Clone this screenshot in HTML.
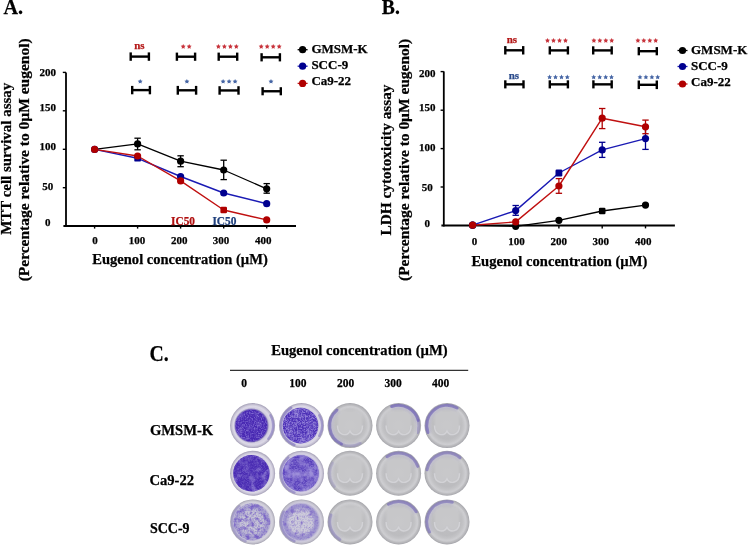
<!DOCTYPE html><html><head><meta charset="utf-8"><style>html,body{margin:0;padding:0;background:#fff;overflow:hidden;}svg{display:block;will-change:transform;}text{font-family:"Liberation Serif",serif;font-weight:bold;stroke-width:0.25px;}</style></head><body>
<svg width="748" height="545" viewBox="0 0 748 545">
<defs>
<filter id="spk" x="0" y="0" width="100%" height="100%">
  <feTurbulence type="fractalNoise" baseFrequency="0.55" numOctaves="2" seed="3" result="n"/>
  <feColorMatrix in="n" type="matrix" values="0 0 0 0 0.80  0 0 0 0 0.76  0 0 0 0 0.95  0 0 0 2.4 -1.25" result="m"/>
  <feComposite in="m" in2="SourceGraphic" operator="in"/>
</filter>
<radialGradient id="rim" cx="50%" cy="50%" r="50%">
  <stop offset="0" stop-color="#d4d2dc"/>
  <stop offset="0.78" stop-color="#cfcdd8"/>
  <stop offset="0.9" stop-color="#c2c0cc"/>
  <stop offset="1" stop-color="#9c9aa8"/>
</radialGradient>
<radialGradient id="empty" cx="50%" cy="50%" r="50%">
  <stop offset="0" stop-color="#d6d6da"/>
  <stop offset="0.7" stop-color="#cfcfd3"/>
  <stop offset="0.86" stop-color="#c4c4c9"/>
  <stop offset="0.95" stop-color="#b4b4ba"/>
  <stop offset="1" stop-color="#9e9ea6"/>
</radialGradient>
<radialGradient id="purp" cx="50%" cy="50%" r="50%">
  <stop offset="0" stop-color="#5a3cc4"/>
  <stop offset="0.85" stop-color="#5232bc"/>
  <stop offset="1" stop-color="#4a2cb0"/>
</radialGradient>
</defs>
<text x="3.4" y="13.7" font-size="21" fill="#000" stroke="#000" text-anchor="start" textLength="19.6" lengthAdjust="spacingAndGlyphs" >A.</text>
<text x="381.8" y="13.7" font-size="21" fill="#000" stroke="#000" text-anchor="start" textLength="18" lengthAdjust="spacingAndGlyphs" >B.</text>
<text x="149.4" y="361.2" font-size="22.2" fill="#000" stroke="#000" text-anchor="start" textLength="19.2" lengthAdjust="spacingAndGlyphs" >C.</text>
<line x1="66.0" y1="72.4" x2="66.0" y2="227" stroke="#000" stroke-width="1.8" stroke-linecap="butt"/>
<line x1="63.4" y1="226" x2="296" y2="226" stroke="#000" stroke-width="2.0" stroke-linecap="butt"/>
<line x1="62.8" y1="72.4" x2="66.0" y2="72.4" stroke="#000" stroke-width="1.4" stroke-linecap="butt"/>
<line x1="62.8" y1="110.8" x2="66.0" y2="110.8" stroke="#000" stroke-width="1.4" stroke-linecap="butt"/>
<line x1="62.8" y1="149.3" x2="66.0" y2="149.3" stroke="#000" stroke-width="1.4" stroke-linecap="butt"/>
<line x1="62.8" y1="187.7" x2="66.0" y2="187.7" stroke="#000" stroke-width="1.4" stroke-linecap="butt"/>
<line x1="94.6" y1="226" x2="94.6" y2="228.6" stroke="#000" stroke-width="1.4" stroke-linecap="butt"/>
<line x1="137.6" y1="226" x2="137.6" y2="228.6" stroke="#000" stroke-width="1.4" stroke-linecap="butt"/>
<line x1="180.6" y1="226" x2="180.6" y2="228.6" stroke="#000" stroke-width="1.4" stroke-linecap="butt"/>
<line x1="223.7" y1="226" x2="223.7" y2="228.6" stroke="#000" stroke-width="1.4" stroke-linecap="butt"/>
<line x1="266.7" y1="226" x2="266.7" y2="228.6" stroke="#000" stroke-width="1.4" stroke-linecap="butt"/>
<text x="47.7" y="76.4" font-size="11" fill="#000" stroke="#000" text-anchor="middle" >200</text>
<text x="47.7" y="110.8" font-size="11" fill="#000" stroke="#000" text-anchor="middle" >150</text>
<text x="47.7" y="149.6" font-size="11" fill="#000" stroke="#000" text-anchor="middle" >100</text>
<text x="47.7" y="190" font-size="11" fill="#000" stroke="#000" text-anchor="middle" >50</text>
<text x="47.7" y="226.4" font-size="11" fill="#000" stroke="#000" text-anchor="middle" >0</text>
<text x="95" y="244.2" font-size="11" fill="#000" stroke="#000" text-anchor="middle" >0</text>
<text x="137" y="244.2" font-size="11" fill="#000" stroke="#000" text-anchor="middle" >100</text>
<text x="179.2" y="244.2" font-size="11" fill="#000" stroke="#000" text-anchor="middle" >200</text>
<text x="221.1" y="244.2" font-size="11" fill="#000" stroke="#000" text-anchor="middle" >300</text>
<text x="263.2" y="244.2" font-size="11" fill="#000" stroke="#000" text-anchor="middle" >400</text>
<text x="92.3" y="264.2" font-size="14.5" fill="#000" stroke="#000" text-anchor="start" textLength="175.5" lengthAdjust="spacingAndGlyphs" >Eugenol concentration (µM)</text>
<g transform="translate(10.6,234.8) rotate(-90)">
<text x="0" y="0" font-size="14.5" fill="#000" stroke="#000" text-anchor="start" textLength="152" lengthAdjust="spacingAndGlyphs" >MTT cell survival assay</text>
</g>
<g transform="translate(28.8,281.3) rotate(-90)">
<text x="0" y="0" font-size="14.5" fill="#000" stroke="#000" text-anchor="start" textLength="242.9" lengthAdjust="spacingAndGlyphs" >(Percentage relative to 0µM eugenol)</text>
</g>
<line x1="137.6" y1="138.2" x2="137.6" y2="149.8" stroke="#000" stroke-width="1.3" stroke-linecap="butt"/>
<line x1="134.4" y1="138.2" x2="140.79999999999998" y2="138.2" stroke="#000" stroke-width="1.3" stroke-linecap="butt"/>
<line x1="134.4" y1="149.8" x2="140.79999999999998" y2="149.8" stroke="#000" stroke-width="1.3" stroke-linecap="butt"/>
<line x1="180.6" y1="155.8" x2="180.6" y2="166.7" stroke="#000" stroke-width="1.3" stroke-linecap="butt"/>
<line x1="177.4" y1="155.8" x2="183.79999999999998" y2="155.8" stroke="#000" stroke-width="1.3" stroke-linecap="butt"/>
<line x1="177.4" y1="166.7" x2="183.79999999999998" y2="166.7" stroke="#000" stroke-width="1.3" stroke-linecap="butt"/>
<line x1="223.7" y1="160.2" x2="223.7" y2="179.6" stroke="#000" stroke-width="1.3" stroke-linecap="butt"/>
<line x1="220.5" y1="160.2" x2="226.89999999999998" y2="160.2" stroke="#000" stroke-width="1.3" stroke-linecap="butt"/>
<line x1="220.5" y1="179.6" x2="226.89999999999998" y2="179.6" stroke="#000" stroke-width="1.3" stroke-linecap="butt"/>
<line x1="266.7" y1="183.6" x2="266.7" y2="193.2" stroke="#000" stroke-width="1.3" stroke-linecap="butt"/>
<line x1="263.5" y1="183.6" x2="269.9" y2="183.6" stroke="#000" stroke-width="1.3" stroke-linecap="butt"/>
<line x1="263.5" y1="193.2" x2="269.9" y2="193.2" stroke="#000" stroke-width="1.3" stroke-linecap="butt"/>
<polyline points="94.6,149.4 137.6,143.9 180.6,161.2 223.7,170.0 266.7,188.8" fill="none" stroke="#000" stroke-width="1.3" stroke-linejoin="round"/>
<polyline points="94.6,149.4 137.6,158.3 180.6,176.5 223.7,193.0 266.7,203.7" fill="none" stroke="#1a1ab4" stroke-width="1.4" stroke-linejoin="round"/>
<polyline points="94.6,149.4 137.6,156.0 180.6,180.9 223.7,210.0 266.7,219.9" fill="none" stroke="#c01010" stroke-width="1.4" stroke-linejoin="round"/>
<circle cx="137.6" cy="143.9" r="3.6" fill="#000"/>
<circle cx="180.6" cy="161.2" r="3.6" fill="#000"/>
<circle cx="223.7" cy="170.0" r="3.6" fill="#000"/>
<circle cx="266.7" cy="188.8" r="3.6" fill="#000"/>
<circle cx="94.6" cy="149.4" r="3.6" fill="#00008f"/>
<rect x="134.29999999999998" y="155.0" width="6.6" height="6.6" rx="1.2" fill="#00008f"/>
<circle cx="180.6" cy="176.5" r="3.6" fill="#00008f"/>
<circle cx="223.7" cy="193.0" r="3.6" fill="#00008f"/>
<circle cx="266.7" cy="203.7" r="3.6" fill="#00008f"/>
<circle cx="94.6" cy="149.4" r="3.6" fill="#b00000"/>
<circle cx="137.6" cy="156.0" r="3.6" fill="#b00000"/>
<circle cx="180.6" cy="180.9" r="3.6" fill="#b00000"/>
<rect x="220.39999999999998" y="206.7" width="6.6" height="6.6" rx="1.2" fill="#b00000"/>
<circle cx="266.7" cy="219.9" r="3.6" fill="#b00000"/>
<text x="171.1" y="224.6" font-size="12" fill="#b01010" stroke="#b01010" text-anchor="start" textLength="23.9" lengthAdjust="spacingAndGlyphs" >IC50</text>
<text x="212.4" y="224.6" font-size="12" fill="#1f3f7c" stroke="#1f3f7c" text-anchor="start" textLength="24" lengthAdjust="spacingAndGlyphs" >IC50</text>
<line x1="130.7" y1="52.4" x2="130.7" y2="60.8" stroke="#000" stroke-width="2.4" stroke-linecap="butt"/>
<line x1="148.9" y1="52.4" x2="148.9" y2="60.8" stroke="#000" stroke-width="2.4" stroke-linecap="butt"/>
<line x1="130.7" y1="56.599999999999994" x2="148.9" y2="56.599999999999994" stroke="#000" stroke-width="2.4" stroke-linecap="butt"/>
<line x1="176.9" y1="52.6" x2="176.9" y2="60.8" stroke="#000" stroke-width="2.4" stroke-linecap="butt"/>
<line x1="195.1" y1="52.6" x2="195.1" y2="60.8" stroke="#000" stroke-width="2.4" stroke-linecap="butt"/>
<line x1="176.9" y1="56.7" x2="195.1" y2="56.7" stroke="#000" stroke-width="2.4" stroke-linecap="butt"/>
<line x1="218.7" y1="52.6" x2="218.7" y2="60.8" stroke="#000" stroke-width="2.4" stroke-linecap="butt"/>
<line x1="237.2" y1="52.6" x2="237.2" y2="60.8" stroke="#000" stroke-width="2.4" stroke-linecap="butt"/>
<line x1="218.7" y1="56.7" x2="237.2" y2="56.7" stroke="#000" stroke-width="2.4" stroke-linecap="butt"/>
<line x1="261.6" y1="53.2" x2="261.6" y2="61.4" stroke="#000" stroke-width="2.4" stroke-linecap="butt"/>
<line x1="279.9" y1="53.2" x2="279.9" y2="61.4" stroke="#000" stroke-width="2.4" stroke-linecap="butt"/>
<line x1="261.6" y1="57.3" x2="279.9" y2="57.3" stroke="#000" stroke-width="2.4" stroke-linecap="butt"/>
<line x1="132.2" y1="85.9" x2="132.2" y2="94.3" stroke="#000" stroke-width="2.4" stroke-linecap="butt"/>
<line x1="149.9" y1="85.9" x2="149.9" y2="94.3" stroke="#000" stroke-width="2.4" stroke-linecap="butt"/>
<line x1="132.2" y1="90.1" x2="149.9" y2="90.1" stroke="#000" stroke-width="2.4" stroke-linecap="butt"/>
<line x1="177.8" y1="85.9" x2="177.8" y2="94.7" stroke="#000" stroke-width="2.4" stroke-linecap="butt"/>
<line x1="196.1" y1="85.9" x2="196.1" y2="94.7" stroke="#000" stroke-width="2.4" stroke-linecap="butt"/>
<line x1="177.8" y1="90.30000000000001" x2="196.1" y2="90.30000000000001" stroke="#000" stroke-width="2.4" stroke-linecap="butt"/>
<line x1="219.6" y1="86.2" x2="219.6" y2="94.7" stroke="#000" stroke-width="2.4" stroke-linecap="butt"/>
<line x1="238.5" y1="86.2" x2="238.5" y2="94.7" stroke="#000" stroke-width="2.4" stroke-linecap="butt"/>
<line x1="219.6" y1="90.45" x2="238.5" y2="90.45" stroke="#000" stroke-width="2.4" stroke-linecap="butt"/>
<line x1="262.6" y1="87.2" x2="262.6" y2="95.3" stroke="#000" stroke-width="2.4" stroke-linecap="butt"/>
<line x1="280.8" y1="87.2" x2="280.8" y2="95.3" stroke="#000" stroke-width="2.4" stroke-linecap="butt"/>
<line x1="262.6" y1="91.25" x2="280.8" y2="91.25" stroke="#000" stroke-width="2.4" stroke-linecap="butt"/>
<text x="139.4" y="49.1" font-size="11" fill="#b41818" stroke="#b41818" text-anchor="middle" >ns</text>
<polygon points="183.20,44.00 183.96,45.55 185.67,45.80 184.44,47.00 184.73,48.70 183.20,47.90 181.67,48.70 181.96,47.00 180.73,45.80 182.44,45.55" fill="#c8343c"/>
<polygon points="189.20,44.00 189.96,45.55 191.67,45.80 190.44,47.00 190.73,48.70 189.20,47.90 187.67,48.70 187.96,47.00 186.73,45.80 188.44,45.55" fill="#c8343c"/>
<polygon points="218.40,44.00 219.16,45.55 220.87,45.80 219.64,47.00 219.93,48.70 218.40,47.90 216.87,48.70 217.16,47.00 215.93,45.80 217.64,45.55" fill="#c8343c"/>
<polygon points="224.40,44.00 225.16,45.55 226.87,45.80 225.64,47.00 225.93,48.70 224.40,47.90 222.87,48.70 223.16,47.00 221.93,45.80 223.64,45.55" fill="#c8343c"/>
<polygon points="230.40,44.00 231.16,45.55 232.87,45.80 231.64,47.00 231.93,48.70 230.40,47.90 228.87,48.70 229.16,47.00 227.93,45.80 229.64,45.55" fill="#c8343c"/>
<polygon points="236.30,44.00 237.06,45.55 238.77,45.80 237.54,47.00 237.83,48.70 236.30,47.90 234.77,48.70 235.06,47.00 233.83,45.80 235.54,45.55" fill="#c8343c"/>
<polygon points="261.20,44.00 261.96,45.55 263.67,45.80 262.44,47.00 262.73,48.70 261.20,47.90 259.67,48.70 259.96,47.00 258.73,45.80 260.44,45.55" fill="#c8343c"/>
<polygon points="267.20,44.00 267.96,45.55 269.67,45.80 268.44,47.00 268.73,48.70 267.20,47.90 265.67,48.70 265.96,47.00 264.73,45.80 266.44,45.55" fill="#c8343c"/>
<polygon points="273.20,44.00 273.96,45.55 275.67,45.80 274.44,47.00 274.73,48.70 273.20,47.90 271.67,48.70 271.96,47.00 270.73,45.80 272.44,45.55" fill="#c8343c"/>
<polygon points="279.20,44.00 279.96,45.55 281.67,45.80 280.44,47.00 280.73,48.70 279.20,47.90 277.67,48.70 277.96,47.00 276.73,45.80 278.44,45.55" fill="#c8343c"/>
<polygon points="140.20,78.90 140.96,80.45 142.67,80.70 141.44,81.90 141.73,83.60 140.20,82.80 138.67,83.60 138.96,81.90 137.73,80.70 139.44,80.45" fill="#4464a4"/>
<polygon points="186.90,78.90 187.66,80.45 189.37,80.70 188.14,81.90 188.43,83.60 186.90,82.80 185.37,83.60 185.66,81.90 184.43,80.70 186.14,80.45" fill="#4464a4"/>
<polygon points="223.10,78.90 223.86,80.45 225.57,80.70 224.34,81.90 224.63,83.60 223.10,82.80 221.57,83.60 221.86,81.90 220.63,80.70 222.34,80.45" fill="#4464a4"/>
<polygon points="229.10,78.90 229.86,80.45 231.57,80.70 230.34,81.90 230.63,83.60 229.10,82.80 227.57,83.60 227.86,81.90 226.63,80.70 228.34,80.45" fill="#4464a4"/>
<polygon points="235.10,78.90 235.86,80.45 237.57,80.70 236.34,81.90 236.63,83.60 235.10,82.80 233.57,83.60 233.86,81.90 232.63,80.70 234.34,80.45" fill="#4464a4"/>
<polygon points="271.00,78.90 271.76,80.45 273.47,80.70 272.24,81.90 272.53,83.60 271.00,82.80 269.47,83.60 269.76,81.90 268.53,80.70 270.24,80.45" fill="#4464a4"/>
<line x1="297.6" y1="49.7" x2="307.6" y2="49.7" stroke="#000" stroke-width="1.3" stroke-linecap="butt"/>
<circle cx="302.6" cy="49.7" r="3.6" fill="#000"/>
<text x="311.4" y="53" font-size="13" fill="#000" stroke="#000" text-anchor="start" >GMSM-K</text>
<line x1="297.6" y1="66.2" x2="307.6" y2="66.2" stroke="#1a1ab4" stroke-width="1.3" stroke-linecap="butt"/>
<circle cx="302.6" cy="66.2" r="3.6" fill="#00008f"/>
<text x="311.4" y="69" font-size="13" fill="#000" stroke="#000" text-anchor="start" >SCC-9</text>
<line x1="297.6" y1="83.4" x2="307.6" y2="83.4" stroke="#c01010" stroke-width="1.3" stroke-linecap="butt"/>
<circle cx="302.6" cy="83.4" r="3.6" fill="#b00000"/>
<text x="311.4" y="85" font-size="13" fill="#000" stroke="#000" text-anchor="start" >Ca9-22</text>
<line x1="443.8" y1="71.4" x2="443.8" y2="226.5" stroke="#000" stroke-width="1.8" stroke-linecap="butt"/>
<line x1="441.4" y1="225.5" x2="674.9" y2="225.5" stroke="#000" stroke-width="2.0" stroke-linecap="butt"/>
<line x1="440.6" y1="71.6" x2="443.8" y2="71.6" stroke="#000" stroke-width="1.4" stroke-linecap="butt"/>
<line x1="440.6" y1="110.2" x2="443.8" y2="110.2" stroke="#000" stroke-width="1.4" stroke-linecap="butt"/>
<line x1="440.6" y1="148.6" x2="443.8" y2="148.6" stroke="#000" stroke-width="1.4" stroke-linecap="butt"/>
<line x1="440.6" y1="187.0" x2="443.8" y2="187.0" stroke="#000" stroke-width="1.4" stroke-linecap="butt"/>
<line x1="472.6" y1="225.5" x2="472.6" y2="228.4" stroke="#000" stroke-width="1.4" stroke-linecap="butt"/>
<line x1="515.7" y1="225.5" x2="515.7" y2="228.4" stroke="#000" stroke-width="1.4" stroke-linecap="butt"/>
<line x1="558.9" y1="225.5" x2="558.9" y2="228.4" stroke="#000" stroke-width="1.4" stroke-linecap="butt"/>
<line x1="602.2" y1="225.5" x2="602.2" y2="228.4" stroke="#000" stroke-width="1.4" stroke-linecap="butt"/>
<line x1="645.5" y1="225.5" x2="645.5" y2="228.4" stroke="#000" stroke-width="1.4" stroke-linecap="butt"/>
<text x="427.3" y="77.4" font-size="11" fill="#000" stroke="#000" text-anchor="middle" >200</text>
<text x="427.3" y="111.3" font-size="11" fill="#000" stroke="#000" text-anchor="middle" >150</text>
<text x="427.3" y="150.8" font-size="11" fill="#000" stroke="#000" text-anchor="middle" >100</text>
<text x="427.3" y="190.5" font-size="11" fill="#000" stroke="#000" text-anchor="middle" >50</text>
<text x="427.3" y="227.2" font-size="11" fill="#000" stroke="#000" text-anchor="middle" >0</text>
<text x="474.6" y="244.6" font-size="11" fill="#000" stroke="#000" text-anchor="middle" >0</text>
<text x="516.6" y="244.6" font-size="11" fill="#000" stroke="#000" text-anchor="middle" >100</text>
<text x="558.7" y="244.6" font-size="11" fill="#000" stroke="#000" text-anchor="middle" >200</text>
<text x="600.8" y="244.6" font-size="11" fill="#000" stroke="#000" text-anchor="middle" >300</text>
<text x="643.2" y="244.6" font-size="11" fill="#000" stroke="#000" text-anchor="middle" >400</text>
<text x="471.4" y="265.5" font-size="14.5" fill="#000" stroke="#000" text-anchor="start" textLength="176" lengthAdjust="spacingAndGlyphs" >Eugenol concentration (µM)</text>
<g transform="translate(390.6,235.4) rotate(-90)">
<text x="0" y="0" font-size="14.5" fill="#000" stroke="#000" text-anchor="start" textLength="150.9" lengthAdjust="spacingAndGlyphs" >LDH cytotoxicity assay</text>
</g>
<g transform="translate(409.2,281.0) rotate(-90)">
<text x="0" y="0" font-size="14.5" fill="#000" stroke="#000" text-anchor="start" textLength="242.1" lengthAdjust="spacingAndGlyphs" >(Percentage relative to 0µM eugenol)</text>
</g>
<line x1="515.7" y1="205.5" x2="515.7" y2="215.3" stroke="#00008f" stroke-width="1.3" stroke-linecap="butt"/>
<line x1="512.5" y1="205.5" x2="518.9000000000001" y2="205.5" stroke="#00008f" stroke-width="1.3" stroke-linecap="butt"/>
<line x1="512.5" y1="215.3" x2="518.9000000000001" y2="215.3" stroke="#00008f" stroke-width="1.3" stroke-linecap="butt"/>
<line x1="602.2" y1="142.3" x2="602.2" y2="157.4" stroke="#00008f" stroke-width="1.3" stroke-linecap="butt"/>
<line x1="599.0" y1="142.3" x2="605.4000000000001" y2="142.3" stroke="#00008f" stroke-width="1.3" stroke-linecap="butt"/>
<line x1="599.0" y1="157.4" x2="605.4000000000001" y2="157.4" stroke="#00008f" stroke-width="1.3" stroke-linecap="butt"/>
<line x1="645.5" y1="127.8" x2="645.5" y2="149.4" stroke="#00008f" stroke-width="1.3" stroke-linecap="butt"/>
<line x1="642.3" y1="127.8" x2="648.7" y2="127.8" stroke="#00008f" stroke-width="1.3" stroke-linecap="butt"/>
<line x1="642.3" y1="149.4" x2="648.7" y2="149.4" stroke="#00008f" stroke-width="1.3" stroke-linecap="butt"/>
<line x1="558.9" y1="178.6" x2="558.9" y2="193.3" stroke="#b00000" stroke-width="1.3" stroke-linecap="butt"/>
<line x1="555.6999999999999" y1="178.6" x2="562.1" y2="178.6" stroke="#b00000" stroke-width="1.3" stroke-linecap="butt"/>
<line x1="555.6999999999999" y1="193.3" x2="562.1" y2="193.3" stroke="#b00000" stroke-width="1.3" stroke-linecap="butt"/>
<line x1="602.2" y1="108.5" x2="602.2" y2="128.6" stroke="#b00000" stroke-width="1.3" stroke-linecap="butt"/>
<line x1="599.0" y1="108.5" x2="605.4000000000001" y2="108.5" stroke="#b00000" stroke-width="1.3" stroke-linecap="butt"/>
<line x1="599.0" y1="128.6" x2="605.4000000000001" y2="128.6" stroke="#b00000" stroke-width="1.3" stroke-linecap="butt"/>
<line x1="645.5" y1="120.1" x2="645.5" y2="133.7" stroke="#b00000" stroke-width="1.3" stroke-linecap="butt"/>
<line x1="642.3" y1="120.1" x2="648.7" y2="120.1" stroke="#b00000" stroke-width="1.3" stroke-linecap="butt"/>
<line x1="642.3" y1="133.7" x2="648.7" y2="133.7" stroke="#b00000" stroke-width="1.3" stroke-linecap="butt"/>
<polyline points="472.6,225.2 515.7,226.3 558.9,220.3 602.2,211.0 645.5,205.1" fill="none" stroke="#000" stroke-width="1.3" stroke-linejoin="round"/>
<polyline points="472.6,225.2 515.7,210.6 558.9,173.0 602.2,149.9 645.5,138.6" fill="none" stroke="#1a1ab4" stroke-width="1.4" stroke-linejoin="round"/>
<polyline points="472.6,225.2 515.7,221.9 558.9,186.0 602.2,118.2 645.5,126.8" fill="none" stroke="#c01010" stroke-width="1.4" stroke-linejoin="round"/>
<circle cx="472.6" cy="225.2" r="3.6" fill="#000"/>
<circle cx="515.7" cy="226.3" r="3.6" fill="#000"/>
<circle cx="558.9" cy="220.3" r="3.6" fill="#000"/>
<rect x="598.9000000000001" y="207.7" width="6.6" height="6.6" rx="1.2" fill="#000"/>
<circle cx="645.5" cy="205.1" r="3.6" fill="#000"/>
<circle cx="472.6" cy="225.2" r="3.6" fill="#00008f"/>
<circle cx="515.7" cy="210.6" r="3.6" fill="#00008f"/>
<rect x="555.5" y="169.6" width="6.8" height="6.8" rx="1.2" fill="#00008f"/>
<circle cx="602.2" cy="149.9" r="3.6" fill="#00008f"/>
<circle cx="645.5" cy="138.6" r="3.6" fill="#00008f"/>
<circle cx="472.6" cy="225.2" r="3.6" fill="#b00000"/>
<circle cx="515.7" cy="221.9" r="3.6" fill="#b00000"/>
<circle cx="558.9" cy="186.0" r="3.6" fill="#b00000"/>
<circle cx="602.2" cy="118.2" r="3.6" fill="#b00000"/>
<circle cx="645.5" cy="126.8" r="3.6" fill="#b00000"/>
<line x1="505.3" y1="46.1" x2="505.3" y2="54.5" stroke="#000" stroke-width="2.4" stroke-linecap="butt"/>
<line x1="523.2" y1="46.1" x2="523.2" y2="54.5" stroke="#000" stroke-width="2.4" stroke-linecap="butt"/>
<line x1="505.3" y1="50.3" x2="523.2" y2="50.3" stroke="#000" stroke-width="2.4" stroke-linecap="butt"/>
<line x1="549.8" y1="46.3" x2="549.8" y2="54.5" stroke="#000" stroke-width="2.4" stroke-linecap="butt"/>
<line x1="567.9" y1="46.3" x2="567.9" y2="54.5" stroke="#000" stroke-width="2.4" stroke-linecap="butt"/>
<line x1="549.8" y1="50.4" x2="567.9" y2="50.4" stroke="#000" stroke-width="2.4" stroke-linecap="butt"/>
<line x1="593.2" y1="46.3" x2="593.2" y2="54.5" stroke="#000" stroke-width="2.4" stroke-linecap="butt"/>
<line x1="611.7" y1="46.3" x2="611.7" y2="54.5" stroke="#000" stroke-width="2.4" stroke-linecap="butt"/>
<line x1="593.2" y1="50.4" x2="611.7" y2="50.4" stroke="#000" stroke-width="2.4" stroke-linecap="butt"/>
<line x1="638.8" y1="47.1" x2="638.8" y2="55.3" stroke="#000" stroke-width="2.4" stroke-linecap="butt"/>
<line x1="656.8" y1="47.1" x2="656.8" y2="55.3" stroke="#000" stroke-width="2.4" stroke-linecap="butt"/>
<line x1="638.8" y1="51.2" x2="656.8" y2="51.2" stroke="#000" stroke-width="2.4" stroke-linecap="butt"/>
<line x1="505.3" y1="80.3" x2="505.3" y2="88.4" stroke="#000" stroke-width="2.4" stroke-linecap="butt"/>
<line x1="523.5" y1="80.3" x2="523.5" y2="88.4" stroke="#000" stroke-width="2.4" stroke-linecap="butt"/>
<line x1="505.3" y1="84.35" x2="523.5" y2="84.35" stroke="#000" stroke-width="2.4" stroke-linecap="butt"/>
<line x1="549.8" y1="80.3" x2="549.8" y2="88.4" stroke="#000" stroke-width="2.4" stroke-linecap="butt"/>
<line x1="567.9" y1="80.3" x2="567.9" y2="88.4" stroke="#000" stroke-width="2.4" stroke-linecap="butt"/>
<line x1="549.8" y1="84.35" x2="567.9" y2="84.35" stroke="#000" stroke-width="2.4" stroke-linecap="butt"/>
<line x1="593.4" y1="80.3" x2="593.4" y2="88.4" stroke="#000" stroke-width="2.4" stroke-linecap="butt"/>
<line x1="611.7" y1="80.3" x2="611.7" y2="88.4" stroke="#000" stroke-width="2.4" stroke-linecap="butt"/>
<line x1="593.4" y1="84.35" x2="611.7" y2="84.35" stroke="#000" stroke-width="2.4" stroke-linecap="butt"/>
<line x1="638.8" y1="80.5" x2="638.8" y2="89.1" stroke="#000" stroke-width="2.4" stroke-linecap="butt"/>
<line x1="656.8" y1="80.5" x2="656.8" y2="89.1" stroke="#000" stroke-width="2.4" stroke-linecap="butt"/>
<line x1="638.8" y1="84.8" x2="656.8" y2="84.8" stroke="#000" stroke-width="2.4" stroke-linecap="butt"/>
<text x="511.9" y="42.6" font-size="11" fill="#b41818" stroke="#b41818" text-anchor="middle" >ns</text>
<text x="513.9" y="78.7" font-size="11" fill="#2c4c8c" stroke="#2c4c8c" text-anchor="middle" >ns</text>
<polygon points="547.50,38.00 548.26,39.55 549.97,39.80 548.74,41.00 549.03,42.70 547.50,41.90 545.97,42.70 546.26,41.00 545.03,39.80 546.74,39.55" fill="#c8343c"/>
<polygon points="553.50,38.00 554.26,39.55 555.97,39.80 554.74,41.00 555.03,42.70 553.50,41.90 551.97,42.70 552.26,41.00 551.03,39.80 552.74,39.55" fill="#c8343c"/>
<polygon points="559.50,38.00 560.26,39.55 561.97,39.80 560.74,41.00 561.03,42.70 559.50,41.90 557.97,42.70 558.26,41.00 557.03,39.80 558.74,39.55" fill="#c8343c"/>
<polygon points="565.50,38.00 566.26,39.55 567.97,39.80 566.74,41.00 567.03,42.70 565.50,41.90 563.97,42.70 564.26,41.00 563.03,39.80 564.74,39.55" fill="#c8343c"/>
<polygon points="593.90,38.00 594.66,39.55 596.37,39.80 595.14,41.00 595.43,42.70 593.90,41.90 592.37,42.70 592.66,41.00 591.43,39.80 593.14,39.55" fill="#c8343c"/>
<polygon points="599.80,38.00 600.56,39.55 602.27,39.80 601.04,41.00 601.33,42.70 599.80,41.90 598.27,42.70 598.56,41.00 597.33,39.80 599.04,39.55" fill="#c8343c"/>
<polygon points="605.80,38.00 606.56,39.55 608.27,39.80 607.04,41.00 607.33,42.70 605.80,41.90 604.27,42.70 604.56,41.00 603.33,39.80 605.04,39.55" fill="#c8343c"/>
<polygon points="611.70,38.00 612.46,39.55 614.17,39.80 612.94,41.00 613.23,42.70 611.70,41.90 610.17,42.70 610.46,41.00 609.23,39.80 610.94,39.55" fill="#c8343c"/>
<polygon points="637.90,38.00 638.66,39.55 640.37,39.80 639.14,41.00 639.43,42.70 637.90,41.90 636.37,42.70 636.66,41.00 635.43,39.80 637.14,39.55" fill="#c8343c"/>
<polygon points="643.80,38.00 644.56,39.55 646.27,39.80 645.04,41.00 645.33,42.70 643.80,41.90 642.27,42.70 642.56,41.00 641.33,39.80 643.04,39.55" fill="#c8343c"/>
<polygon points="649.80,38.00 650.56,39.55 652.27,39.80 651.04,41.00 651.33,42.70 649.80,41.90 648.27,42.70 648.56,41.00 647.33,39.80 649.04,39.55" fill="#c8343c"/>
<polygon points="655.70,38.00 656.46,39.55 658.17,39.80 656.94,41.00 657.23,42.70 655.70,41.90 654.17,42.70 654.46,41.00 653.23,39.80 654.94,39.55" fill="#c8343c"/>
<polygon points="549.60,74.60 550.36,76.15 552.07,76.40 550.84,77.60 551.13,79.30 549.60,78.50 548.07,79.30 548.36,77.60 547.13,76.40 548.84,76.15" fill="#4464a4"/>
<polygon points="555.50,74.60 556.26,76.15 557.97,76.40 556.74,77.60 557.03,79.30 555.50,78.50 553.97,79.30 554.26,77.60 553.03,76.40 554.74,76.15" fill="#4464a4"/>
<polygon points="561.50,74.60 562.26,76.15 563.97,76.40 562.74,77.60 563.03,79.30 561.50,78.50 559.97,79.30 560.26,77.60 559.03,76.40 560.74,76.15" fill="#4464a4"/>
<polygon points="567.30,74.60 568.06,76.15 569.77,76.40 568.54,77.60 568.83,79.30 567.30,78.50 565.77,79.30 566.06,77.60 564.83,76.40 566.54,76.15" fill="#4464a4"/>
<polygon points="593.70,74.60 594.46,76.15 596.17,76.40 594.94,77.60 595.23,79.30 593.70,78.50 592.17,79.30 592.46,77.60 591.23,76.40 592.94,76.15" fill="#4464a4"/>
<polygon points="599.70,74.60 600.46,76.15 602.17,76.40 600.94,77.60 601.23,79.30 599.70,78.50 598.17,79.30 598.46,77.60 597.23,76.40 598.94,76.15" fill="#4464a4"/>
<polygon points="605.70,74.60 606.46,76.15 608.17,76.40 606.94,77.60 607.23,79.30 605.70,78.50 604.17,79.30 604.46,77.60 603.23,76.40 604.94,76.15" fill="#4464a4"/>
<polygon points="611.50,74.60 612.26,76.15 613.97,76.40 612.74,77.60 613.03,79.30 611.50,78.50 609.97,79.30 610.26,77.60 609.03,76.40 610.74,76.15" fill="#4464a4"/>
<polygon points="640.00,74.60 640.76,76.15 642.47,76.40 641.24,77.60 641.53,79.30 640.00,78.50 638.47,79.30 638.76,77.60 637.53,76.40 639.24,76.15" fill="#4464a4"/>
<polygon points="645.90,74.60 646.66,76.15 648.37,76.40 647.14,77.60 647.43,79.30 645.90,78.50 644.37,79.30 644.66,77.60 643.43,76.40 645.14,76.15" fill="#4464a4"/>
<polygon points="651.90,74.60 652.66,76.15 654.37,76.40 653.14,77.60 653.43,79.30 651.90,78.50 650.37,79.30 650.66,77.60 649.43,76.40 651.14,76.15" fill="#4464a4"/>
<polygon points="657.70,74.60 658.46,76.15 660.17,76.40 658.94,77.60 659.23,79.30 657.70,78.50 656.17,79.30 656.46,77.60 655.23,76.40 656.94,76.15" fill="#4464a4"/>
<line x1="677.5" y1="50.5" x2="687.5" y2="50.5" stroke="#000" stroke-width="1.3" stroke-linecap="butt"/>
<circle cx="682.5" cy="50.5" r="3.6" fill="#000"/>
<text x="691" y="54" font-size="13" fill="#000" stroke="#000" text-anchor="start" >GMSM-K</text>
<line x1="677.5" y1="66.5" x2="687.5" y2="66.5" stroke="#1a1ab4" stroke-width="1.3" stroke-linecap="butt"/>
<circle cx="682.5" cy="66.5" r="3.6" fill="#00008f"/>
<text x="691" y="70" font-size="13" fill="#000" stroke="#000" text-anchor="start" >SCC-9</text>
<line x1="677.5" y1="84.0" x2="687.5" y2="84.0" stroke="#c01010" stroke-width="1.3" stroke-linecap="butt"/>
<circle cx="682.5" cy="84.0" r="3.6" fill="#b00000"/>
<text x="691" y="86" font-size="13" fill="#000" stroke="#000" text-anchor="start" >Ca9-22</text>
<text x="271.2" y="355" font-size="14.5" fill="#000" stroke="#000" text-anchor="start" textLength="176.4" lengthAdjust="spacingAndGlyphs" >Eugenol concentration (µM)</text>
<line x1="230" y1="370.4" x2="468.2" y2="370.4" stroke="#333" stroke-width="1.1" stroke-linecap="butt"/>
<text x="244" y="387" font-size="11.5" fill="#000" stroke="#000" text-anchor="middle" >0</text>
<text x="297.8" y="387" font-size="11.5" fill="#000" stroke="#000" text-anchor="middle" >100</text>
<text x="345.5" y="387" font-size="11.5" fill="#000" stroke="#000" text-anchor="middle" >200</text>
<text x="393.1" y="387" font-size="11.5" fill="#000" stroke="#000" text-anchor="middle" >300</text>
<text x="440.5" y="387" font-size="11.5" fill="#000" stroke="#000" text-anchor="middle" >400</text>
<text x="149.9" y="435.3" font-size="14.5" fill="#000" stroke="#000" text-anchor="start" textLength="63.3" lengthAdjust="spacingAndGlyphs" >GMSM-K</text>
<text x="149.4" y="485" font-size="14.5" fill="#000" stroke="#000" text-anchor="start" textLength="44.7" lengthAdjust="spacingAndGlyphs" >Ca9-22</text>
<text x="150" y="532.8" font-size="14.5" fill="#000" stroke="#000" text-anchor="start" textLength="39.6" lengthAdjust="spacingAndGlyphs" >SCC-9</text>
<defs>
<radialGradient id="rimS" cx="50%" cy="50%" r="50%"><stop offset="0.70" stop-color="#bcb6d2"/><stop offset="0.76" stop-color="#d2cee0"/><stop offset="0.86" stop-color="#dcd9e6"/><stop offset="0.93" stop-color="#c6c2d4"/><stop offset="1" stop-color="#a29db4"/></radialGradient><radialGradient id="rimG" cx="50%" cy="50%" r="50%"><stop offset="0.70" stop-color="#bcbac8"/><stop offset="0.78" stop-color="#cfcdd8"/><stop offset="0.87" stop-color="#d6d4de"/><stop offset="0.94" stop-color="#c2c0cc"/><stop offset="1" stop-color="#a4a2b0"/></radialGradient><radialGradient id="emp" cx="50%" cy="50%" r="50%"><stop offset="0" stop-color="#c0c0c2"/><stop offset="0.6" stop-color="#bcbcbf"/><stop offset="0.72" stop-color="#c3c3c6"/><stop offset="0.81" stop-color="#cccccf"/><stop offset="0.89" stop-color="#c1c1c4"/><stop offset="0.955" stop-color="#b2b2b6"/><stop offset="1" stop-color="#a2a2a8"/></radialGradient>
<filter id="fl1" x="0" y="0" width="100%" height="100%" color-interpolation-filters="sRGB"><feTurbulence type="fractalNoise" baseFrequency="0.75" numOctaves="2" seed="3" result="n"/><feColorMatrix in="n" type="matrix" values="0 0 0 0 0.56  0 0 0 0 0.48  0 0 0 0 0.86  3.0 0 0 0 -1.3" result="m"/><feGaussianBlur in="m" stdDeviation="0.35" result="mb"/><feComposite in="mb" in2="SourceGraphic" operator="in"/></filter>
<filter id="fl2" x="0" y="0" width="100%" height="100%" color-interpolation-filters="sRGB"><feTurbulence type="fractalNoise" baseFrequency="0.75" numOctaves="2" seed="5" result="n"/><feColorMatrix in="n" type="matrix" values="0 0 0 0 0.62  0 0 0 0 0.55  0 0 0 0 0.88  3.0 0 0 0 -1.15" result="m"/><feGaussianBlur in="m" stdDeviation="0.35" result="mb"/><feComposite in="mb" in2="SourceGraphic" operator="in"/></filter>
<filter id="ml1" x="0" y="0" width="100%" height="100%" color-interpolation-filters="sRGB"><feTurbulence type="fractalNoise" baseFrequency="0.16" numOctaves="3" seed="7" result="n"/><feColorMatrix in="n" type="matrix" values="0 0 0 0 0.72  0 0 0 0 0.68  0 0 0 0 0.9  3.2 0 0 0 -1.45" result="m"/><feGaussianBlur in="m" stdDeviation="0.6" result="mb"/><feComposite in="mb" in2="SourceGraphic" operator="in"/></filter>
<filter id="ml2" x="0" y="0" width="100%" height="100%" color-interpolation-filters="sRGB"><feTurbulence type="fractalNoise" baseFrequency="0.14" numOctaves="3" seed="9" result="n"/><feColorMatrix in="n" type="matrix" values="0 0 0 0 0.7  0 0 0 0 0.66  0 0 0 0 0.88  2.6 0 0 0 -0.95" result="m"/><feGaussianBlur in="m" stdDeviation="0.6" result="mb"/><feComposite in="mb" in2="SourceGraphic" operator="in"/></filter>
<filter id="bp1" x="0" y="0" width="100%" height="100%" color-interpolation-filters="sRGB"><feTurbulence type="fractalNoise" baseFrequency="0.22" numOctaves="3" seed="11" result="n"/><feColorMatrix in="n" type="matrix" values="0 0 0 0 0.42  0 0 0 0 0.32  0 0 0 0 0.76  3.2 0 0 0 -1.45" result="m"/><feGaussianBlur in="m" stdDeviation="0.5" result="mb"/><feComposite in="mb" in2="SourceGraphic" operator="in"/></filter>
<filter id="bp2" x="0" y="0" width="100%" height="100%" color-interpolation-filters="sRGB"><feTurbulence type="fractalNoise" baseFrequency="0.22" numOctaves="3" seed="13" result="n"/><feColorMatrix in="n" type="matrix" values="0 0 0 0 0.42  0 0 0 0 0.32  0 0 0 0 0.76  3.2 0 0 0 -1.65" result="m"/><feGaussianBlur in="m" stdDeviation="0.5" result="mb"/><feComposite in="mb" in2="SourceGraphic" operator="in"/></filter>
<filter id="bf1" x="0" y="0" width="100%" height="100%" color-interpolation-filters="sRGB"><feTurbulence type="fractalNoise" baseFrequency="0.7" numOctaves="2" seed="15" result="n"/><feColorMatrix in="n" type="matrix" values="0 0 0 0 0.45  0 0 0 0 0.36  0 0 0 0 0.78  3.0 0 0 0 -1.3" result="m"/><feGaussianBlur in="m" stdDeviation="0.35" result="mb"/><feComposite in="mb" in2="SourceGraphic" operator="in"/></filter>
<filter id="soft" x="-20%" y="-20%" width="140%" height="140%"><feGaussianBlur stdDeviation="0.9"/></filter>
<filter id="soft05" x="-20%" y="-20%" width="140%" height="140%"><feGaussianBlur stdDeviation="0.45"/></filter>
<filter id="soft07" x="-20%" y="-20%" width="140%" height="140%"><feGaussianBlur stdDeviation="0.7"/></filter>
<filter id="soft2" x="-20%" y="-20%" width="140%" height="140%"><feGaussianBlur stdDeviation="1.6"/></filter>
</defs>
<circle cx="252.6" cy="425.6" r="22.5" fill="url(#rimS)"/>
<path d="M270.35,415.35 A20.5,20.5 0 0 1 268.30,438.78" fill="none" stroke="#6252b4" stroke-width="2.4" stroke-linecap="round" opacity="0.4" filter="url(#soft05)"/>
<circle cx="251.4" cy="425.6" r="16.2" fill="#4828b2"/>
<circle cx="251.4" cy="425.6" r="16.4" fill="none" stroke="#5a48a8" stroke-width="1.2" opacity="0.5" filter="url(#soft05)"/>
<circle cx="251.4" cy="425.6" r="16.2" fill="#fff" filter="url(#fl1)" opacity="0.7"/>
<circle cx="251.4" cy="425.6" r="16.2" fill="#fff" filter="url(#ml1)" opacity="0.25"/>
<circle cx="301.5" cy="425.6" r="22.5" fill="url(#rimS)"/>
<path d="M294.49,444.86 A20.5,20.5 0 0 1 291.25,407.85" fill="none" stroke="#6252b4" stroke-width="2.4" stroke-linecap="round" opacity="0.48" filter="url(#soft05)"/>
<path d="M319.25,415.35 A20.5,20.5 0 0 1 319.25,435.85" fill="none" stroke="#6252b4" stroke-width="2.4" stroke-linecap="round" opacity="0.4" filter="url(#soft05)"/>
<circle cx="300.5" cy="425.6" r="17.8" fill="#4c30b6"/>
<circle cx="300.5" cy="425.6" r="17.8" fill="#fff" filter="url(#fl2)" opacity="0.8"/>
<circle cx="300.5" cy="425.6" r="17.8" fill="#fff" filter="url(#ml1)" opacity="0.4"/>
<circle cx="350.0" cy="425.6" r="22.5" fill="url(#emp)"/>
<path d="M337.5,416.6 Q337.5,410.6 344.0,410.6 L356.0,410.6 Q362.5,410.6 362.5,416.6 L362.5,425.6 C362.5,436.1 353.0,436.6 350.0,431.1 C347.0,436.6 337.5,436.1 337.5,425.6 Z" fill="#cbcbcd" opacity="0.75" filter="url(#soft)"/>
<line x1="342.0" y1="412.6" x2="342.0" y2="429.6" stroke="#cdcdd1" stroke-width="1.6" opacity="0.45" filter="url(#soft)"/>
<line x1="347.0" y1="412.6" x2="347.0" y2="429.6" stroke="#cdcdd1" stroke-width="1.6" opacity="0.45" filter="url(#soft)"/>
<line x1="352.0" y1="412.6" x2="352.0" y2="429.6" stroke="#cdcdd1" stroke-width="1.6" opacity="0.45" filter="url(#soft)"/>
<line x1="357.0" y1="412.6" x2="357.0" y2="429.6" stroke="#cdcdd1" stroke-width="1.6" opacity="0.45" filter="url(#soft)"/>
<path d="M337.5,425.6 C337.5,436.1 347.0,436.6 350.0,431.1 C353.0,436.6 362.5,436.1 362.5,425.6" fill="none" stroke="#d6d6da" stroke-width="1.4" opacity="0.85" filter="url(#soft05)"/>
<circle cx="350.0" cy="425.6" r="19.1" fill="none" stroke="#d0d0d4" stroke-width="1.0" opacity="0.7"/>
<path d="M341.42,444.00 A20.3,20.3 0 0 1 336.95,410.05" fill="none" stroke="#6a5cb6" stroke-width="3.0" stroke-linecap="round" opacity="0.6400000000000001" filter="url(#soft07)"/>
<path d="M342.27,442.19 A18.3,18.3 0 0 1 338.24,411.58" fill="none" stroke="#8a80c4" stroke-width="2.5" stroke-linecap="round" opacity="0.24" filter="url(#soft)"/>
<path d="M360.15,443.18 A20.3,20.3 0 0 1 341.42,444.00" fill="none" stroke="#6a5cb6" stroke-width="3.0" stroke-linecap="round" opacity="0.27999999999999997" filter="url(#soft07)"/>
<path d="M359.15,441.45 A18.3,18.3 0 0 1 342.27,442.19" fill="none" stroke="#8a80c4" stroke-width="2.5" stroke-linecap="round" opacity="0.105" filter="url(#soft)"/>
<circle cx="398.6" cy="425.6" r="22.5" fill="url(#emp)"/>
<path d="M386.1,416.6 Q386.1,410.6 392.6,410.6 L404.6,410.6 Q411.1,410.6 411.1,416.6 L411.1,425.6 C411.1,436.1 401.6,436.6 398.6,431.1 C395.6,436.6 386.1,436.1 386.1,425.6 Z" fill="#cbcbcd" opacity="0.75" filter="url(#soft)"/>
<line x1="390.6" y1="412.6" x2="390.6" y2="429.6" stroke="#cdcdd1" stroke-width="1.6" opacity="0.45" filter="url(#soft)"/>
<line x1="395.6" y1="412.6" x2="395.6" y2="429.6" stroke="#cdcdd1" stroke-width="1.6" opacity="0.45" filter="url(#soft)"/>
<line x1="400.6" y1="412.6" x2="400.6" y2="429.6" stroke="#cdcdd1" stroke-width="1.6" opacity="0.45" filter="url(#soft)"/>
<line x1="405.6" y1="412.6" x2="405.6" y2="429.6" stroke="#cdcdd1" stroke-width="1.6" opacity="0.45" filter="url(#soft)"/>
<path d="M386.1,425.6 C386.1,436.1 395.6,436.6 398.6,431.1 C401.6,436.6 411.1,436.1 411.1,425.6" fill="none" stroke="#d6d6da" stroke-width="1.4" opacity="0.85" filter="url(#soft05)"/>
<circle cx="398.6" cy="425.6" r="19.1" fill="none" stroke="#d0d0d4" stroke-width="1.0" opacity="0.7"/>
<path d="M391.66,406.52 A20.3,20.3 0 0 1 418.21,420.35" fill="none" stroke="#6a5cb6" stroke-width="3.0" stroke-linecap="round" opacity="0.68" filter="url(#soft07)"/>
<path d="M392.34,408.40 A18.3,18.3 0 0 1 416.28,420.86" fill="none" stroke="#8a80c4" stroke-width="2.5" stroke-linecap="round" opacity="0.255" filter="url(#soft)"/>
<path d="M418.21,420.35 A20.3,20.3 0 0 1 417.68,432.54" fill="none" stroke="#6a5cb6" stroke-width="3.0" stroke-linecap="round" opacity="0.32000000000000006" filter="url(#soft07)"/>
<path d="M416.28,420.86 A18.3,18.3 0 0 1 415.80,431.86" fill="none" stroke="#8a80c4" stroke-width="2.5" stroke-linecap="round" opacity="0.12" filter="url(#soft)"/>
<circle cx="447.0" cy="425.6" r="22.5" fill="url(#emp)"/>
<path d="M434.5,416.6 Q434.5,410.6 441.0,410.6 L453.0,410.6 Q459.5,410.6 459.5,416.6 L459.5,425.6 C459.5,436.1 450.0,436.6 447.0,431.1 C444.0,436.6 434.5,436.1 434.5,425.6 Z" fill="#cbcbcd" opacity="0.75" filter="url(#soft)"/>
<line x1="439.0" y1="412.6" x2="439.0" y2="429.6" stroke="#cdcdd1" stroke-width="1.6" opacity="0.45" filter="url(#soft)"/>
<line x1="444.0" y1="412.6" x2="444.0" y2="429.6" stroke="#cdcdd1" stroke-width="1.6" opacity="0.45" filter="url(#soft)"/>
<line x1="449.0" y1="412.6" x2="449.0" y2="429.6" stroke="#cdcdd1" stroke-width="1.6" opacity="0.45" filter="url(#soft)"/>
<line x1="454.0" y1="412.6" x2="454.0" y2="429.6" stroke="#cdcdd1" stroke-width="1.6" opacity="0.45" filter="url(#soft)"/>
<path d="M434.5,425.6 C434.5,436.1 444.0,436.6 447.0,431.1 C450.0,436.6 459.5,436.1 459.5,425.6" fill="none" stroke="#d6d6da" stroke-width="1.4" opacity="0.85" filter="url(#soft05)"/>
<circle cx="447.0" cy="425.6" r="19.1" fill="none" stroke="#d0d0d4" stroke-width="1.0" opacity="0.7"/>
<path d="M427.92,432.54 A20.3,20.3 0 0 1 457.15,408.02" fill="none" stroke="#6a5cb6" stroke-width="3.0" stroke-linecap="round" opacity="0.6400000000000001" filter="url(#soft07)"/>
<path d="M429.80,431.86 A18.3,18.3 0 0 1 456.15,409.75" fill="none" stroke="#8a80c4" stroke-width="2.5" stroke-linecap="round" opacity="0.24" filter="url(#soft)"/>
<circle cx="252.6" cy="473.3" r="22.5" fill="url(#rimS)"/>
<circle cx="251.4" cy="473.3" r="18.2" fill="#4a2cb2"/>
<circle cx="251.4" cy="473.3" r="18.2" fill="#fff" filter="url(#fl1)" opacity="0.4"/>
<circle cx="251.4" cy="473.3" r="18.2" fill="#fff" filter="url(#ml1)" opacity="0.45"/>
<circle cx="301.5" cy="473.3" r="22.5" fill="url(#rimS)"/>
<path d="M294.49,492.56 A20.5,20.5 0 0 1 288.32,457.60" fill="none" stroke="#6252b4" stroke-width="2.4" stroke-linecap="round" opacity="0.4" filter="url(#soft05)"/>
<circle cx="300.7" cy="473.3" r="18.0" fill="#5c44bc"/>
<circle cx="300.7" cy="473.3" r="16" fill="none" stroke="#5038b8" stroke-width="3" opacity="0.6" filter="url(#soft2)"/>
<circle cx="300.7" cy="473.3" r="18.0" fill="#fff" filter="url(#ml2)" opacity="0.75"/>
<circle cx="300.7" cy="473.3" r="18.0" fill="#fff" filter="url(#fl2)" opacity="0.5"/>
<circle cx="350.0" cy="473.3" r="22.5" fill="url(#emp)"/>
<path d="M337.5,464.3 Q337.5,458.3 344.0,458.3 L356.0,458.3 Q362.5,458.3 362.5,464.3 L362.5,473.3 C362.5,483.8 353.0,484.3 350.0,478.8 C347.0,484.3 337.5,483.8 337.5,473.3 Z" fill="#cbcbcd" opacity="0.75" filter="url(#soft)"/>
<line x1="342.0" y1="460.3" x2="342.0" y2="477.3" stroke="#cdcdd1" stroke-width="1.6" opacity="0.45" filter="url(#soft)"/>
<line x1="347.0" y1="460.3" x2="347.0" y2="477.3" stroke="#cdcdd1" stroke-width="1.6" opacity="0.45" filter="url(#soft)"/>
<line x1="352.0" y1="460.3" x2="352.0" y2="477.3" stroke="#cdcdd1" stroke-width="1.6" opacity="0.45" filter="url(#soft)"/>
<line x1="357.0" y1="460.3" x2="357.0" y2="477.3" stroke="#cdcdd1" stroke-width="1.6" opacity="0.45" filter="url(#soft)"/>
<path d="M337.5,473.3 C337.5,483.8 347.0,484.3 350.0,478.8 C353.0,484.3 362.5,483.8 362.5,473.3" fill="none" stroke="#d6d6da" stroke-width="1.4" opacity="0.85" filter="url(#soft05)"/>
<circle cx="350.0" cy="473.3" r="19.1" fill="none" stroke="#d0d0d4" stroke-width="1.0" opacity="0.7"/>
<path d="M334.45,486.35 A20.3,20.3 0 0 1 332.42,463.15" fill="none" stroke="#6a5cb6" stroke-width="3.0" stroke-linecap="round" opacity="0.2" filter="url(#soft07)"/>
<path d="M335.98,485.06 A18.3,18.3 0 0 1 334.15,464.15" fill="none" stroke="#8a80c4" stroke-width="2.5" stroke-linecap="round" opacity="0.075" filter="url(#soft)"/>
<circle cx="398.6" cy="473.3" r="22.5" fill="url(#emp)"/>
<path d="M386.1,464.3 Q386.1,458.3 392.6,458.3 L404.6,458.3 Q411.1,458.3 411.1,464.3 L411.1,473.3 C411.1,483.8 401.6,484.3 398.6,478.8 C395.6,484.3 386.1,483.8 386.1,473.3 Z" fill="#cbcbcd" opacity="0.75" filter="url(#soft)"/>
<line x1="390.6" y1="460.3" x2="390.6" y2="477.3" stroke="#cdcdd1" stroke-width="1.6" opacity="0.45" filter="url(#soft)"/>
<line x1="395.6" y1="460.3" x2="395.6" y2="477.3" stroke="#cdcdd1" stroke-width="1.6" opacity="0.45" filter="url(#soft)"/>
<line x1="400.6" y1="460.3" x2="400.6" y2="477.3" stroke="#cdcdd1" stroke-width="1.6" opacity="0.45" filter="url(#soft)"/>
<line x1="405.6" y1="460.3" x2="405.6" y2="477.3" stroke="#cdcdd1" stroke-width="1.6" opacity="0.45" filter="url(#soft)"/>
<path d="M386.1,473.3 C386.1,483.8 395.6,484.3 398.6,478.8 C401.6,484.3 411.1,483.8 411.1,473.3" fill="none" stroke="#d6d6da" stroke-width="1.4" opacity="0.85" filter="url(#soft05)"/>
<circle cx="398.6" cy="473.3" r="19.1" fill="none" stroke="#d0d0d4" stroke-width="1.0" opacity="0.7"/>
<path d="M386.96,456.67 A20.3,20.3 0 0 1 417.68,466.36" fill="none" stroke="#6a5cb6" stroke-width="3.0" stroke-linecap="round" opacity="0.5599999999999999" filter="url(#soft07)"/>
<path d="M388.10,458.31 A18.3,18.3 0 0 1 415.80,467.04" fill="none" stroke="#8a80c4" stroke-width="2.5" stroke-linecap="round" opacity="0.21" filter="url(#soft)"/>
<circle cx="447.0" cy="473.3" r="22.5" fill="url(#emp)"/>
<path d="M434.5,464.3 Q434.5,458.3 441.0,458.3 L453.0,458.3 Q459.5,458.3 459.5,464.3 L459.5,473.3 C459.5,483.8 450.0,484.3 447.0,478.8 C444.0,484.3 434.5,483.8 434.5,473.3 Z" fill="#cbcbcd" opacity="0.75" filter="url(#soft)"/>
<line x1="439.0" y1="460.3" x2="439.0" y2="477.3" stroke="#cdcdd1" stroke-width="1.6" opacity="0.45" filter="url(#soft)"/>
<line x1="444.0" y1="460.3" x2="444.0" y2="477.3" stroke="#cdcdd1" stroke-width="1.6" opacity="0.45" filter="url(#soft)"/>
<line x1="449.0" y1="460.3" x2="449.0" y2="477.3" stroke="#cdcdd1" stroke-width="1.6" opacity="0.45" filter="url(#soft)"/>
<line x1="454.0" y1="460.3" x2="454.0" y2="477.3" stroke="#cdcdd1" stroke-width="1.6" opacity="0.45" filter="url(#soft)"/>
<path d="M434.5,473.3 C434.5,483.8 444.0,484.3 447.0,478.8 C450.0,484.3 459.5,483.8 459.5,473.3" fill="none" stroke="#d6d6da" stroke-width="1.4" opacity="0.85" filter="url(#soft05)"/>
<circle cx="447.0" cy="473.3" r="19.1" fill="none" stroke="#d0d0d4" stroke-width="1.0" opacity="0.7"/>
<path d="M427.01,469.77 A20.3,20.3 0 0 1 460.05,457.75" fill="none" stroke="#6a5cb6" stroke-width="3.0" stroke-linecap="round" opacity="0.52" filter="url(#soft07)"/>
<path d="M428.98,470.12 A18.3,18.3 0 0 1 458.76,459.28" fill="none" stroke="#8a80c4" stroke-width="2.5" stroke-linecap="round" opacity="0.195" filter="url(#soft)"/>
<circle cx="252.6" cy="521.9" r="22.5" fill="url(#rimG)"/>
<path d="M245.59,541.16 A20.5,20.5 0 0 1 239.42,506.20" fill="none" stroke="#6252b4" stroke-width="2.4" stroke-linecap="round" opacity="0.32000000000000006" filter="url(#soft05)"/>
<circle cx="251.79999999999998" cy="521.9" r="18.5" fill="#c6c4d6"/>
<circle cx="251.79999999999998" cy="521.9" r="15.5" fill="none" stroke="#6a58c0" stroke-width="4" opacity="0.4" filter="url(#soft2)"/>
<circle cx="251.79999999999998" cy="521.9" r="18.5" fill="#fff" filter="url(#bp1)" opacity="0.8"/>
<circle cx="251.79999999999998" cy="521.9" r="18.5" fill="#fff" filter="url(#bf1)" opacity="0.45"/>
<circle cx="301.5" cy="521.9" r="22.5" fill="url(#rimG)"/>
<path d="M294.49,541.16 A20.5,20.5 0 0 1 283.75,511.65" fill="none" stroke="#6252b4" stroke-width="2.4" stroke-linecap="round" opacity="0.4" filter="url(#soft05)"/>
<circle cx="300.7" cy="521.9" r="18.2" fill="#cdcbda"/>
<circle cx="300.7" cy="521.9" r="16" fill="none" stroke="#6a58c0" stroke-width="4.5" opacity="0.55" filter="url(#soft2)"/>
<circle cx="300.7" cy="521.9" r="18.2" fill="#fff" filter="url(#bp2)" opacity="0.65"/>
<circle cx="300.7" cy="521.9" r="18.2" fill="#fff" filter="url(#bf1)" opacity="0.3"/>
<circle cx="350.0" cy="521.9" r="22.5" fill="url(#emp)"/>
<path d="M337.5,512.9 Q337.5,506.9 344.0,506.9 L356.0,506.9 Q362.5,506.9 362.5,512.9 L362.5,521.9 C362.5,532.4 353.0,532.9 350.0,527.4 C347.0,532.9 337.5,532.4 337.5,521.9 Z" fill="#cbcbcd" opacity="0.75" filter="url(#soft)"/>
<line x1="342.0" y1="508.9" x2="342.0" y2="525.9" stroke="#cdcdd1" stroke-width="1.6" opacity="0.45" filter="url(#soft)"/>
<line x1="347.0" y1="508.9" x2="347.0" y2="525.9" stroke="#cdcdd1" stroke-width="1.6" opacity="0.45" filter="url(#soft)"/>
<line x1="352.0" y1="508.9" x2="352.0" y2="525.9" stroke="#cdcdd1" stroke-width="1.6" opacity="0.45" filter="url(#soft)"/>
<line x1="357.0" y1="508.9" x2="357.0" y2="525.9" stroke="#cdcdd1" stroke-width="1.6" opacity="0.45" filter="url(#soft)"/>
<path d="M337.5,521.9 C337.5,532.4 347.0,532.9 350.0,527.4 C353.0,532.9 362.5,532.4 362.5,521.9" fill="none" stroke="#d6d6da" stroke-width="1.4" opacity="0.85" filter="url(#soft05)"/>
<circle cx="350.0" cy="521.9" r="19.1" fill="none" stroke="#d0d0d4" stroke-width="1.0" opacity="0.7"/>
<path d="M339.85,539.48 A20.3,20.3 0 0 1 330.92,514.96" fill="none" stroke="#6a5cb6" stroke-width="3.0" stroke-linecap="round" opacity="0.36000000000000004" filter="url(#soft07)"/>
<path d="M340.85,537.75 A18.3,18.3 0 0 1 332.80,515.64" fill="none" stroke="#8a80c4" stroke-width="2.5" stroke-linecap="round" opacity="0.135" filter="url(#soft)"/>
<circle cx="398.6" cy="521.9" r="22.5" fill="url(#emp)"/>
<path d="M386.1,512.9 Q386.1,506.9 392.6,506.9 L404.6,506.9 Q411.1,506.9 411.1,512.9 L411.1,521.9 C411.1,532.4 401.6,532.9 398.6,527.4 C395.6,532.9 386.1,532.4 386.1,521.9 Z" fill="#cbcbcd" opacity="0.75" filter="url(#soft)"/>
<line x1="390.6" y1="508.9" x2="390.6" y2="525.9" stroke="#cdcdd1" stroke-width="1.6" opacity="0.45" filter="url(#soft)"/>
<line x1="395.6" y1="508.9" x2="395.6" y2="525.9" stroke="#cdcdd1" stroke-width="1.6" opacity="0.45" filter="url(#soft)"/>
<line x1="400.6" y1="508.9" x2="400.6" y2="525.9" stroke="#cdcdd1" stroke-width="1.6" opacity="0.45" filter="url(#soft)"/>
<line x1="405.6" y1="508.9" x2="405.6" y2="525.9" stroke="#cdcdd1" stroke-width="1.6" opacity="0.45" filter="url(#soft)"/>
<path d="M386.1,521.9 C386.1,532.4 395.6,532.9 398.6,527.4 C401.6,532.9 411.1,532.4 411.1,521.9" fill="none" stroke="#d6d6da" stroke-width="1.4" opacity="0.85" filter="url(#soft05)"/>
<circle cx="398.6" cy="521.9" r="19.1" fill="none" stroke="#d0d0d4" stroke-width="1.0" opacity="0.7"/>
<path d="M388.45,504.32 A20.3,20.3 0 0 1 416.18,511.75" fill="none" stroke="#6a5cb6" stroke-width="3.0" stroke-linecap="round" opacity="0.5599999999999999" filter="url(#soft07)"/>
<path d="M389.45,506.05 A18.3,18.3 0 0 1 414.45,512.75" fill="none" stroke="#8a80c4" stroke-width="2.5" stroke-linecap="round" opacity="0.21" filter="url(#soft)"/>
<circle cx="447.0" cy="521.9" r="22.5" fill="url(#emp)"/>
<path d="M434.5,512.9 Q434.5,506.9 441.0,506.9 L453.0,506.9 Q459.5,506.9 459.5,512.9 L459.5,521.9 C459.5,532.4 450.0,532.9 447.0,527.4 C444.0,532.9 434.5,532.4 434.5,521.9 Z" fill="#cbcbcd" opacity="0.75" filter="url(#soft)"/>
<line x1="439.0" y1="508.9" x2="439.0" y2="525.9" stroke="#cdcdd1" stroke-width="1.6" opacity="0.45" filter="url(#soft)"/>
<line x1="444.0" y1="508.9" x2="444.0" y2="525.9" stroke="#cdcdd1" stroke-width="1.6" opacity="0.45" filter="url(#soft)"/>
<line x1="449.0" y1="508.9" x2="449.0" y2="525.9" stroke="#cdcdd1" stroke-width="1.6" opacity="0.45" filter="url(#soft)"/>
<line x1="454.0" y1="508.9" x2="454.0" y2="525.9" stroke="#cdcdd1" stroke-width="1.6" opacity="0.45" filter="url(#soft)"/>
<path d="M434.5,521.9 C434.5,532.4 444.0,532.9 447.0,527.4 C450.0,532.9 459.5,532.4 459.5,521.9" fill="none" stroke="#d6d6da" stroke-width="1.4" opacity="0.85" filter="url(#soft05)"/>
<circle cx="447.0" cy="521.9" r="19.1" fill="none" stroke="#d0d0d4" stroke-width="1.0" opacity="0.7"/>
<path d="M429.42,532.05 A20.3,20.3 0 0 1 452.25,502.29" fill="none" stroke="#6a5cb6" stroke-width="3.0" stroke-linecap="round" opacity="0.52" filter="url(#soft07)"/>
<path d="M431.15,531.05 A18.3,18.3 0 0 1 451.74,504.22" fill="none" stroke="#8a80c4" stroke-width="2.5" stroke-linecap="round" opacity="0.195" filter="url(#soft)"/>
</svg></body></html>
